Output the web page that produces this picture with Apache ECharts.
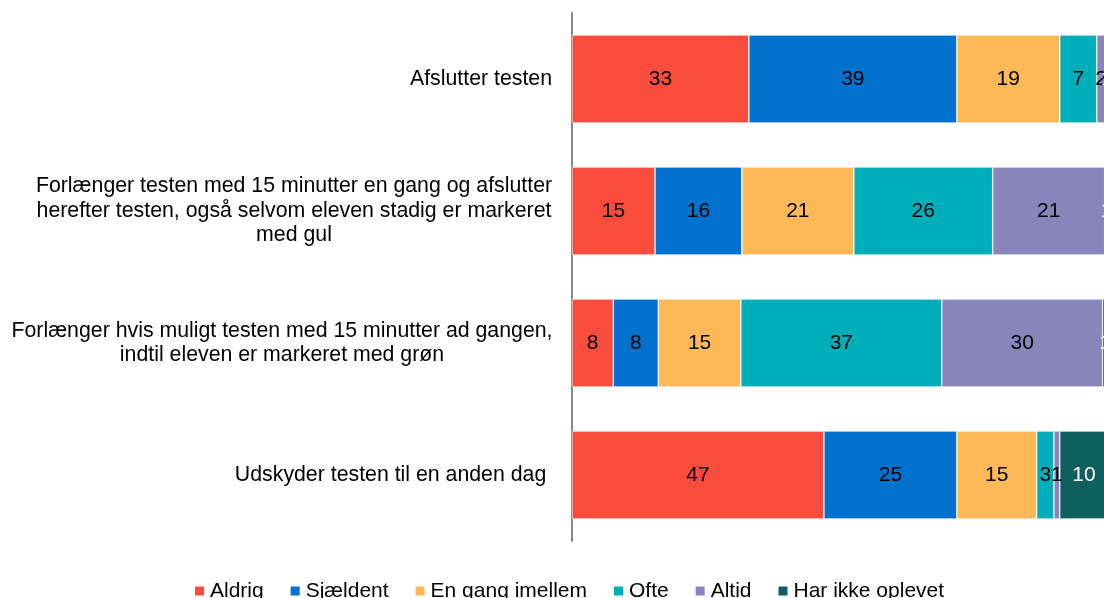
<!DOCTYPE html>
<html>
<head>
<meta charset="utf-8">
<script src="https://cdn.jsdelivr.net/npm/echarts@6/dist/echarts.min.js"></script>
<style>
  html, body { margin: 0; padding: 0; overflow: hidden; background: #fff; }
  #chart { width: 1120px; height: 598px; }
</style>
</head>
<body>
<div id="chart"></div>
<script>
// kategorier (top til bund)
var categories = [
    'Afslutter testen',
    'Forlænger testen med 15 minutter en gang og afslutter\nherefter testen, også selvom eleven stadig er markeret\nmed gul',
    'Forlænger hvis muligt testen med 15 minutter ad gangen,\nindtil eleven er markeret med grøn',
    'Udskyder testen til en anden dag '
];

// procent pr. svar
var aldrig = [33.0, 15.49, 7.7, 47.0];
var sjaeldent = [38.8, 16.2, 8.4, 24.8];
var enGang = [19.2, 20.9, 15.4, 14.9];
var ofte = [6.9, 25.9, 37.49, 3.2];
var altid = [1.6, 20.9, 30.0, 1.1];
var harIkke = [0.6, 0.9, 1.0, 9.6];

var FONT = '"Liberation Sans", Arial, sans-serif';
var CAT_SIZE = 21.3;

// bredeste linje pr. kategori, så linjerne kan centreres og blokken højrestilles
var ctx = document.createElement('canvas').getContext('2d');
ctx.font = CAT_SIZE + 'px ' + FONT;
var rich = {};
categories.forEach(function (c, i) {
    var w = 0;
    c.split('\n').forEach(function (s) {
        w = Math.max(w, ctx.measureText(s).width);
    });
    rich['c' + i] = { width: Math.ceil(w) + 1, align: 'center', fontSize: CAT_SIZE, lineHeight: 24.5, color: '#000', fontFamily: FONT };
});

var myChart = echarts.init(document.getElementById('chart'));

function serie(name, data, color, labelColor) {
    return {
        name: name,
        type: 'bar',
        stack: 'total',
        data: data,
        barWidth: 88,
        itemStyle: { color: color, borderColor: '#fff', borderWidth: 0.6 },
        label: {
            show: true,
            position: 'inside',
            color: labelColor,
            fontSize: 21,
            fontFamily: FONT,
            formatter: function (p) { return Math.round(p.value); }
        }
    };
}

var option = {
    animation: false,
    grid: {
        left: 572,
        right: 12,
        top: 13,
        height: 528
    },
    legend: {
        left: 193,
        top: 579,
        padding: 0,
        itemWidth: 11,
        itemHeight: 11,
        itemGap: 25,
        icon: 'rect',
        textStyle: { fontSize: 21, fontFamily: FONT, color: '#000', lineHeight: 24 }
    },
    xAxis: {
        type: 'value',
        min: 0,
        max: 100,
        show: false
    },
    yAxis: {
        type: 'category',
        inverse: true,
        data: categories,
        axisLine: { lineStyle: { color: '#888', width: 2 } },
        axisTick: { show: false },
        axisLabel: {
            margin: 19,
            formatter: function (value, idx) {
                return value.split('\n').map(function (s) {
                    return '{c' + idx + '|' + s + '}';
                }).join('\n');
            },
            rich: rich
        }
    },
    series: [
        serie('Aldrig', aldrig, '#F94C3C', '#000'),
        serie('Sjældent', sjaeldent, '#0171CE', '#000'),
        serie('En gang imellem', enGang, '#FDB858', '#000'),
        serie('Ofte', ofte, '#00AEB9', '#000'),
        serie('Altid', altid, '#8984BA', '#000'),
        serie('Har ikke oplevet', harIkke, '#0F5F5F', '#fff')
    ]
};

myChart.setOption(option);
</script>
</body>
</html>
